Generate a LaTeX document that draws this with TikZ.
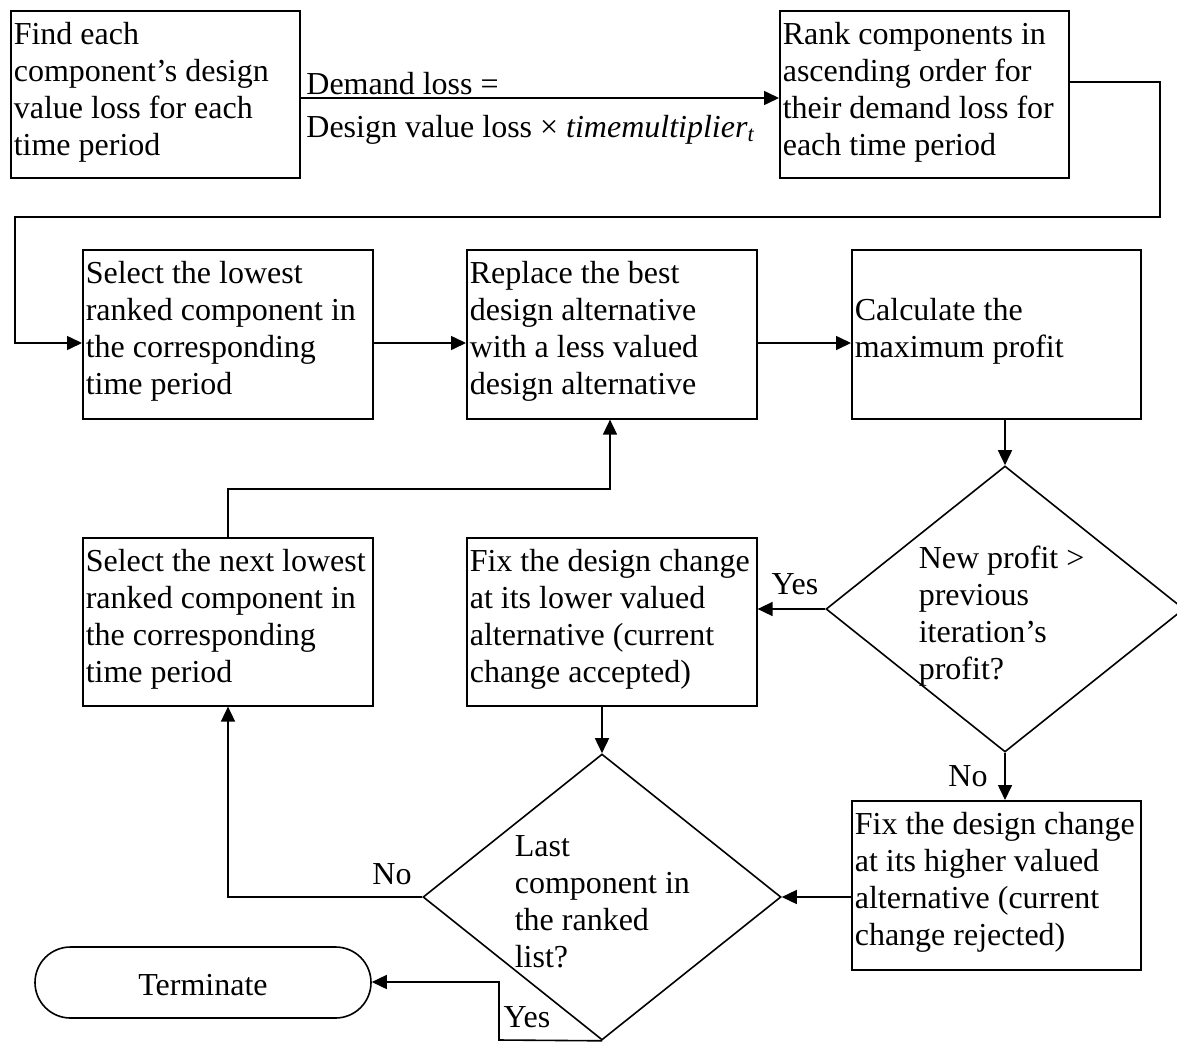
\documentclass[tikz,border=0pt]{standalone}
\usepackage{fontspec}
\setmainfont{Liberation Serif}
\usetikzlibrary{arrows.meta,shapes.geometric,shapes.misc,calc}
\begin{document}
\begin{tikzpicture}[x=1pt,y=-1pt,line width=1.6pt,
  box/.style={draw,rectangle,inner sep=0pt,anchor=north west},
  dec/.style={draw,diamond,inner sep=0pt,minimum width=358pt,minimum height=286pt},
  txt/.style={inner sep=0pt,anchor=north west,align=left,font=\fontsize{32}{37}\selectfont,execute at begin node=\strut},
  lbl/.style={inner sep=0pt,anchor=base,font=\fontsize{32}{37}\selectfont},
  arr/.style={-{Triangle[length=15pt,width=14pt]}}
]
\clip (0,0) rectangle (1177,1041);
\fill[white] (0,0) rectangle (1177,1041);
% boxes
\node[box,minimum width=289pt,minimum height=167pt] (B1) at (10,10) {};
\node[box,minimum width=289pt,minimum height=167pt] (B2) at (779,10) {};
\node[box,minimum width=290pt,minimum height=169pt] (B3) at (82,249) {};
\node[box,minimum width=290pt,minimum height=169pt] (B4) at (466,249) {};
\node[box,minimum width=289pt,minimum height=169pt] (B5) at (851,249) {};
\node[box,minimum width=290pt,minimum height=168pt] (B6) at (466,537) {};
\node[box,minimum width=290pt,minimum height=168pt] (B7) at (82,537) {};
\node[box,minimum width=289pt,minimum height=169pt] (B8) at (851,800) {};
\node[dec] (D1) at (1005,609) {};
\node[dec] (D2) at (602,897) {};
\node[draw,rounded rectangle,inner sep=0pt,minimum width=336pt,minimum height=71pt] (T) at (203,982.5) {};
% texts
\node[txt] (t1) at (13,47-25.9) {Find each\\component’s design\\value loss for each\\time period};
\node[txt] (t2) at (782,47-25.9) {Rank components in\\ascending order for\\their demand loss for\\each time period};
\node[txt] (t3) at (85,286-25.9) {Select the lowest\\ranked component in\\the corresponding\\time period};
\node[txt] (t4) at (469,286-25.9) {Replace the best\\design alternative\\with a less valued\\design alternative};
\node[txt] (t5) at (854,323-25.9) {Calculate the\\maximum profit};
\node[txt] (t6) at (469,574-25.9) {Fix the design change\\at its lower valued\\alternative (current\\change accepted)};
\node[txt] (t7) at (85,574-25.9) {Select the next lowest\\ranked component in\\the corresponding\\time period};
\node[txt] (t8) at (854,837-25.9) {Fix the design change\\at its higher valued\\alternative (current\\change rejected)};
\node[txt] (t9) at (918,571-25.9) {New profit >\\previous\\iteration’s\\profit?};
\node[txt] (t10) at (514,861-25.9) {Last\\component in\\the ranked\\list?};
\node[lbl] (tT) at (T.center |- 0,995) {Terminate};
% connectors
\draw[arr] (B1.east |- 0,98) -- node[pos=0,anchor=base west,inner sep=0pt,xshift=5pt,yshift=4pt,font=\fontsize{32}{37}\selectfont] (dl1) {Demand loss =}
  node[pos=0,anchor=base west,inner sep=0pt,xshift=5pt,yshift=-39pt,font=\fontsize{32}{37}\selectfont] (dl2) {Design value loss × \textit{timemultiplier\textsubscript{t}}} (B2.west |- 0,98);
\coordinate (c1) at (1160,82);
\coordinate (c2) at (1160,217);
\coordinate (c3) at (15,217);
\draw[arr] (B2.east |- c1) -- (c1) -- (c2) -- (c3) -- (c3 |- 0,343) -- (B3.west |- 0,343);
\draw[arr] (B3.east |- 0,343) -- (B4.west |- 0,343);
\draw[arr] (B4.east |- 0,343) -- (B5.west |- 0,343);
\draw[arr] (D1.north |- B5.south) -- (D1.north);
\draw[arr] (D1.west) -- (B6.east |- D1.west);
\node[lbl] (y1) at (795,594) {Yes};
\draw[arr] (D2.north |- B6.south) -- (D2.north);
\draw[arr] (D1.south) -- (B8.north -| D1.south);
\node[lbl] (n1) at (968,786) {No};
\draw[arr] (B8.west |- D2.east) -- (D2.east);
\coordinate (c4) at (228,897);
\draw[arr] (D2.west) -- (c4) -- (c4 |- B7.south);
\node[lbl] (n2) at (392,884) {No};
\coordinate (c5) at (228,489);
\coordinate (c6) at (610,489);
\draw[arr] (c5 |- B7.north) -- (c5) -- (c6) -- (c6 |- B4.south);
\coordinate (c7) at (499,1040);
\coordinate (c8) at (499,982);
\draw[arr] (D2.south) -- (c7) -- (c8) -- (T.east |- c8);
\node[lbl] (y2) at (527,1027) {Yes};
\end{tikzpicture}
\end{document}
